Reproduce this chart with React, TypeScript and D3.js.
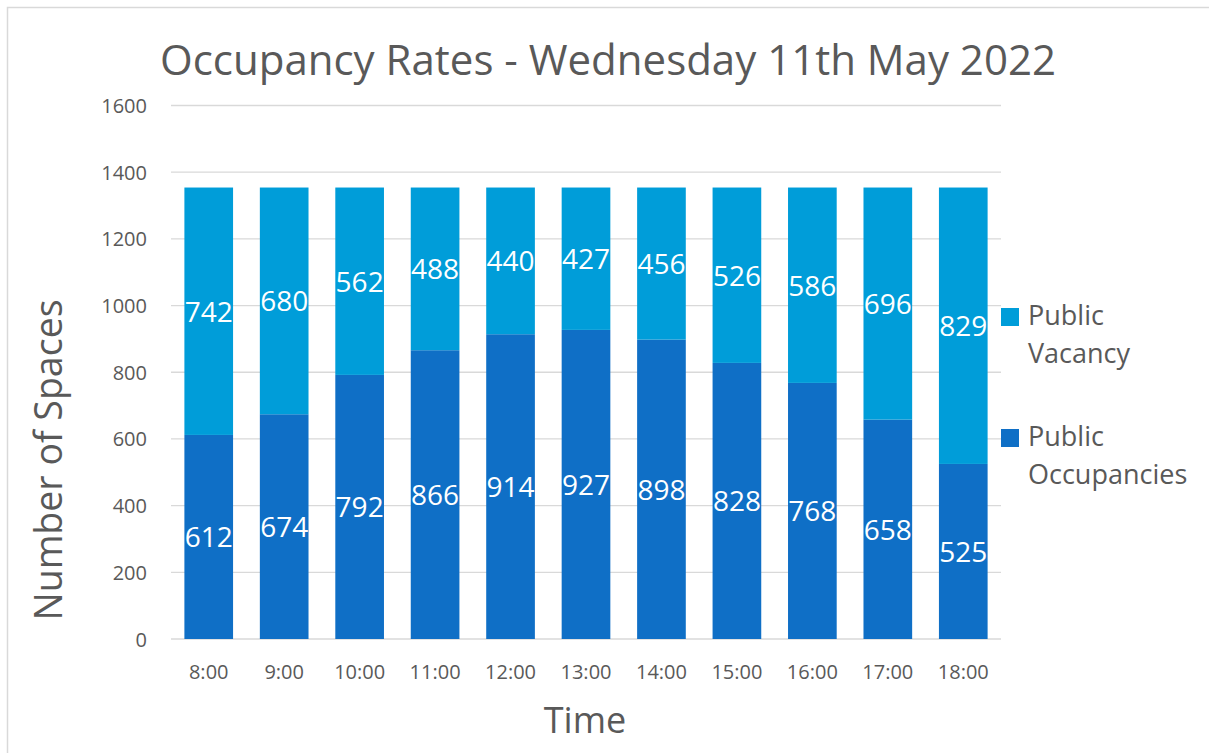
import * as d3 from "d3";

const times = ["8:00", "9:00", "10:00", "11:00", "12:00", "13:00", "14:00", "15:00", "16:00", "17:00", "18:00"];
const occupancies = [612, 674, 792, 866, 914, 927, 898, 828, 768, 658, 525];
const vacancies = [742, 680, 562, 488, 440, 427, 456, 526, 586, 696, 829];
const yTicks = [0, 200, 400, 600, 800, 1000, 1200, 1400, 1600];

const FONT = "'Open Sans', 'Noto Sans', sans-serif";
const TEXT = "#595959";
const OCC = "#0F6FC6";
const VAC = "#009DD9";

const App = () => {
  const width = 1209;
  const height = 753;
  const plot = { left: 171, right: 1001, top: 105.5, bottom: 639 };

  const x = d3
    .scaleBand<string>()
    .domain(times)
    .range([plot.left, plot.right])
    .paddingInner(0.355)
    .paddingOuter(0.1775);

  const y = d3.scaleLinear().domain([0, 1600]).range([plot.bottom, plot.top]);

  // stack the two series: occupancies at the bottom, vacancy on top
  const rows = times.map((t, i) => ({ time: t, occ: occupancies[i], vac: vacancies[i] }));
  const stacked = d3.stack<any>().keys(["occ", "vac"])(rows);
  const colors: Record<string, string> = { occ: OCC, vac: VAC };

  return (
    <div style={{ position: "absolute", left: 0, top: 0 }}>
      <svg width={width} height={height} style={{ display: "block", background: "#fff" }}>
        <rect x={7.5} y={7.5} width={width + 20} height={height + 20} fill="#fff" stroke="#D9D9D9" strokeWidth={1.5} />

        {/* Title */}
        <text x={608} y={75} textAnchor="middle" fontFamily={FONT} fontSize={42} fill={TEXT}>
          Occupancy Rates - Wednesday 11th May 2022
        </text>

        {/* Gridlines and y labels */}
        {yTicks.map((t) => (
          <g key={t}>
            <line x1={plot.left} x2={plot.right} y1={y(t)} y2={y(t)} stroke="#D9D9D9" strokeWidth={1.3} />
            <text x={147} y={y(t) + 7.5} textAnchor="end" fontFamily={FONT} fontSize={20} fill={TEXT}>
              {t}
            </text>
          </g>
        ))}

        {/* Bars */}
        {stacked.map((series) => (
          <g key={series.key} fill={colors[series.key]}>
            {series.map((d) => (
              <rect
                key={d.data.time}
                x={x(d.data.time)}
                y={y(d[1])}
                width={x.bandwidth()}
                height={y(d[0]) - y(d[1])}
              />
            ))}
          </g>
        ))}

        {/* Data labels */}
        {stacked.map((series) =>
          series.map((d) => (
            <text
              key={series.key + d.data.time}
              x={(x(d.data.time) ?? 0) + x.bandwidth() / 2}
              y={y((d[0] + d[1]) / 2) + 10.5}
              textAnchor="middle"
              fontFamily={FONT}
              fontSize={28}
              fill="#fff"
            >
              {d[1] - d[0]}
            </text>
          ))
        )}

        {/* X tick labels */}
        {times.map((t) => (
          <text
            key={t}
            x={(x(t) ?? 0) + x.bandwidth() / 2}
            y={679}
            textAnchor="middle"
            fontFamily={FONT}
            fontSize={20}
            fill={TEXT}
          >
            {t}
          </text>
        ))}

        {/* Axis titles */}
        <text x={585} y={733} textAnchor="middle" fontFamily={FONT} fontSize={36} fill={TEXT}>
          Time
        </text>
        <text
          transform="translate(62,460) rotate(-90)"
          textAnchor="middle"
          fontFamily={FONT}
          fontSize={37.5}
          fill={TEXT}
        >
          Number of Spaces
        </text>

        {/* Legend */}
        <rect x={1001} y={308} width={18} height={18} fill={VAC} />
        <text x={1028} fontFamily={FONT} fontSize={27} fill={TEXT}>
          <tspan x={1028} y={325}>Public</tspan>
          <tspan x={1028} y={363}>Vacancy</tspan>
        </text>
        <rect x={1001} y={429} width={18} height={18} fill={OCC} />
        <text x={1028} fontFamily={FONT} fontSize={27} fill={TEXT}>
          <tspan x={1028} y={446}>Public</tspan>
          <tspan x={1028} y={484}>Occupancies</tspan>
        </text>
      </svg>
    </div>
  );
};

export default App;
